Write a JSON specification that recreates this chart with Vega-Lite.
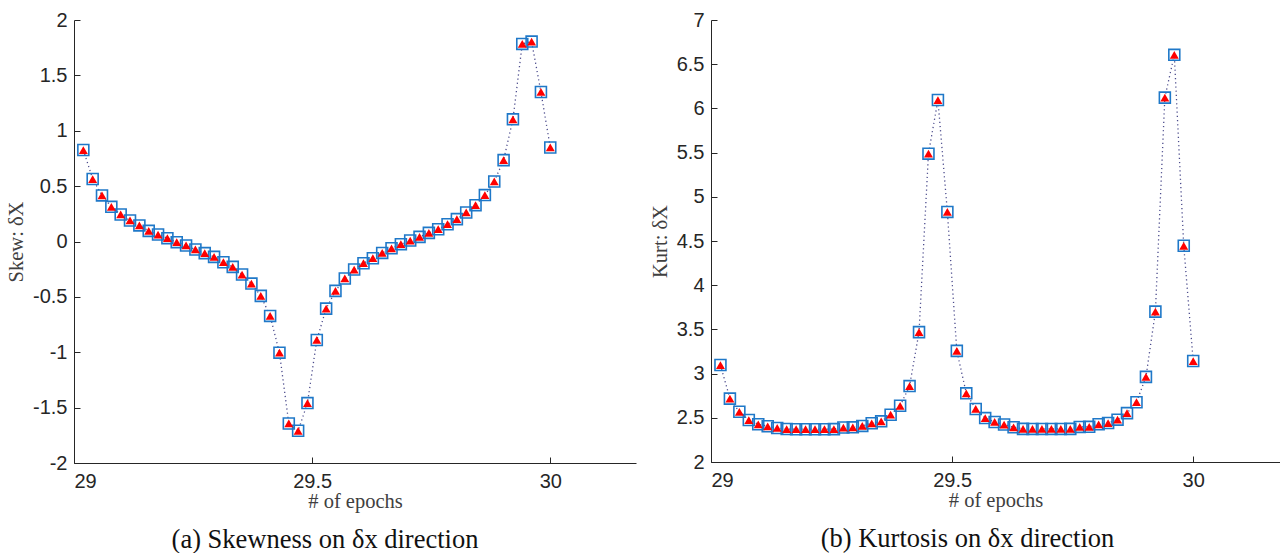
{
  "$schema": "https://vega.github.io/schema/vega-lite/v6.json",
  "padding": {"left": 6, "top": 10, "right": 0, "bottom": 0},
  "background": "white",
  "spacing": 75,
  "bounds": "flush",
  "config": {
    "view": {"stroke": null},
    "axis": {
      "grid": false,
      "domainColor": "#262626",
      "tickColor": "#262626",
      "labelColor": "#262626",
      "labelFont": "Liberation Sans",
      "labelFontSize": 20,
      "titleFont": "Liberation Serif",
      "titleFontWeight": "normal",
      "titleFontSize": 20.5,
      "titleColor": "#404040",
      "tickSize": -6,
      "domainWidth": 1,
      "tickWidth": 1
    }
  },
  "datasets": {
    "skew": [
      {"x": 29.0196, "y": 0.826}, {"x": 29.0392, "y": 0.564}, {"x": 29.0588, "y": 0.416}, {"x": 29.0784, "y": 0.313},
      {"x": 29.0980, "y": 0.244}, {"x": 29.1176, "y": 0.190}, {"x": 29.1373, "y": 0.145}, {"x": 29.1569, "y": 0.096},
      {"x": 29.1765, "y": 0.063}, {"x": 29.1961, "y": 0.030}, {"x": 29.2157, "y": -0.006}, {"x": 29.2353, "y": -0.036},
      {"x": 29.2549, "y": -0.072}, {"x": 29.2745, "y": -0.105}, {"x": 29.2941, "y": -0.139}, {"x": 29.3137, "y": -0.187},
      {"x": 29.3333, "y": -0.229}, {"x": 29.3529, "y": -0.298}, {"x": 29.3725, "y": -0.380}, {"x": 29.3922, "y": -0.491},
      {"x": 29.4118, "y": -0.672}, {"x": 29.4314, "y": -1.004}, {"x": 29.4510, "y": -1.643}, {"x": 29.4706, "y": -1.709},
      {"x": 29.4902, "y": -1.459}, {"x": 29.5098, "y": -0.889}, {"x": 29.5294, "y": -0.606}, {"x": 29.5490, "y": -0.446},
      {"x": 29.5686, "y": -0.334}, {"x": 29.5882, "y": -0.253}, {"x": 29.6078, "y": -0.196}, {"x": 29.6275, "y": -0.151},
      {"x": 29.6471, "y": -0.103}, {"x": 29.6667, "y": -0.061}, {"x": 29.6863, "y": -0.024}, {"x": 29.7059, "y": 0.009},
      {"x": 29.7255, "y": 0.042}, {"x": 29.7451, "y": 0.078}, {"x": 29.7647, "y": 0.111}, {"x": 29.7843, "y": 0.156},
      {"x": 29.8039, "y": 0.202}, {"x": 29.8235, "y": 0.262}, {"x": 29.8431, "y": 0.328}, {"x": 29.8627, "y": 0.419},
      {"x": 29.8824, "y": 0.542}, {"x": 29.9020, "y": 0.735}, {"x": 29.9216, "y": 1.103}, {"x": 29.9412, "y": 1.784},
      {"x": 29.9608, "y": 1.805}, {"x": 29.9804, "y": 1.350}, {"x": 30.0, "y": 0.849}
    ],
    "kurt": [
      {"x": 29.0196, "y": 3.097}, {"x": 29.0392, "y": 2.717}, {"x": 29.0588, "y": 2.568}, {"x": 29.0784, "y": 2.475},
      {"x": 29.0980, "y": 2.427}, {"x": 29.1176, "y": 2.404}, {"x": 29.1373, "y": 2.385}, {"x": 29.1569, "y": 2.373},
      {"x": 29.1765, "y": 2.371}, {"x": 29.1961, "y": 2.371}, {"x": 29.2157, "y": 2.371}, {"x": 29.2353, "y": 2.371},
      {"x": 29.2549, "y": 2.372}, {"x": 29.2745, "y": 2.390}, {"x": 29.2941, "y": 2.392}, {"x": 29.3137, "y": 2.408},
      {"x": 29.3333, "y": 2.438}, {"x": 29.3529, "y": 2.460}, {"x": 29.3725, "y": 2.535}, {"x": 29.3922, "y": 2.636},
      {"x": 29.4118, "y": 2.859}, {"x": 29.4314, "y": 3.469}, {"x": 29.4510, "y": 5.488}, {"x": 29.4706, "y": 6.095},
      {"x": 29.4902, "y": 4.829}, {"x": 29.5098, "y": 3.257}, {"x": 29.5294, "y": 2.777}, {"x": 29.5490, "y": 2.600},
      {"x": 29.5686, "y": 2.497}, {"x": 29.5882, "y": 2.453}, {"x": 29.6078, "y": 2.424}, {"x": 29.6275, "y": 2.393},
      {"x": 29.6471, "y": 2.375}, {"x": 29.6667, "y": 2.374}, {"x": 29.6863, "y": 2.374}, {"x": 29.7059, "y": 2.374},
      {"x": 29.7255, "y": 2.374}, {"x": 29.7451, "y": 2.375}, {"x": 29.7647, "y": 2.397}, {"x": 29.7843, "y": 2.398},
      {"x": 29.8039, "y": 2.427}, {"x": 29.8235, "y": 2.441}, {"x": 29.8431, "y": 2.479}, {"x": 29.8627, "y": 2.553},
      {"x": 29.8824, "y": 2.676}, {"x": 29.9020, "y": 2.963}, {"x": 29.9216, "y": 3.701}, {"x": 29.9412, "y": 6.122},
      {"x": 29.9608, "y": 6.606}, {"x": 29.9804, "y": 4.446}, {"x": 30.0, "y": 3.142}
    ]
  },
  "hconcat": [
    {
      "width": 562,
      "height": 443,
      "data": {"name": "skew"},
      "title": {"text": "(a) Skewness on δx direction", "orient": "bottom", "anchor": "middle", "font": "Liberation Serif", "fontSize": 26.5, "fontWeight": "normal", "color": "#111111", "offset": 15, "dx": -30},
      "encoding": {
        "x": {"field": "x", "type": "quantitative", "scale": {"domain": [29, 30.18], "nice": false, "zero": false},
              "axis": {"values": [29, 29.5, 30], "labelExpr": "'' + datum.value", "title": "# of epochs", "labelPadding": 14, "titlePadding": 0}},
        "y": {"field": "y", "type": "quantitative", "scale": {"domain": [-2, 2], "nice": false},
              "axis": {"values": [-2, -1.5, -1, -0.5, 0, 0.5, 1, 1.5, 2], "labelExpr": "'' + datum.value", "title": "Skew: δX", "labelPadding": 13, "titlePadding": 6, "labelOverlap": false}}
      },
      "layer": [
        {"mark": {"type": "line", "strokeDash": [1.2, 3], "strokeWidth": 1.3, "color": "#4b4b8c"}},
        {"mark": {"type": "point", "shape": "square", "size": 120, "filled": false, "stroke": "#1f78c8", "strokeWidth": 1.6, "opacity": 1}},
        {"mark": {"type": "point", "shape": "triangle-up", "size": 80, "filled": true, "color": "#ff0000", "opacity": 1}}
      ]
    },
    {
      "width": 569,
      "height": 442,
      "data": {"name": "kurt"},
      "title": {"text": "(b) Kurtosis on δx direction", "orient": "bottom", "anchor": "middle", "font": "Liberation Serif", "fontSize": 26.5, "fontWeight": "normal", "color": "#111111", "offset": 15, "dx": -28},
      "encoding": {
        "x": {"field": "x", "type": "quantitative", "scale": {"domain": [29, 30.18], "nice": false, "zero": false},
              "axis": {"values": [29, 29.5, 30], "labelExpr": "'' + datum.value", "title": "# of epochs", "labelPadding": 14, "titlePadding": 0}},
        "y": {"field": "y", "type": "quantitative", "scale": {"domain": [2, 7], "nice": false, "zero": false},
              "axis": {"values": [2, 2.5, 3, 3.5, 4, 4.5, 5, 5.5, 6, 6.5, 7], "labelExpr": "'' + datum.value", "title": "Kurt: δX", "labelPadding": 13, "titlePadding": 6, "labelOverlap": false}}
      },
      "layer": [
        {"mark": {"type": "line", "strokeDash": [1.2, 3], "strokeWidth": 1.3, "color": "#4b4b8c"}},
        {"mark": {"type": "point", "shape": "square", "size": 120, "filled": false, "stroke": "#1f78c8", "strokeWidth": 1.6, "opacity": 1}},
        {"mark": {"type": "point", "shape": "triangle-up", "size": 80, "filled": true, "color": "#ff0000", "opacity": 1}}
      ]
    }
  ]
}
